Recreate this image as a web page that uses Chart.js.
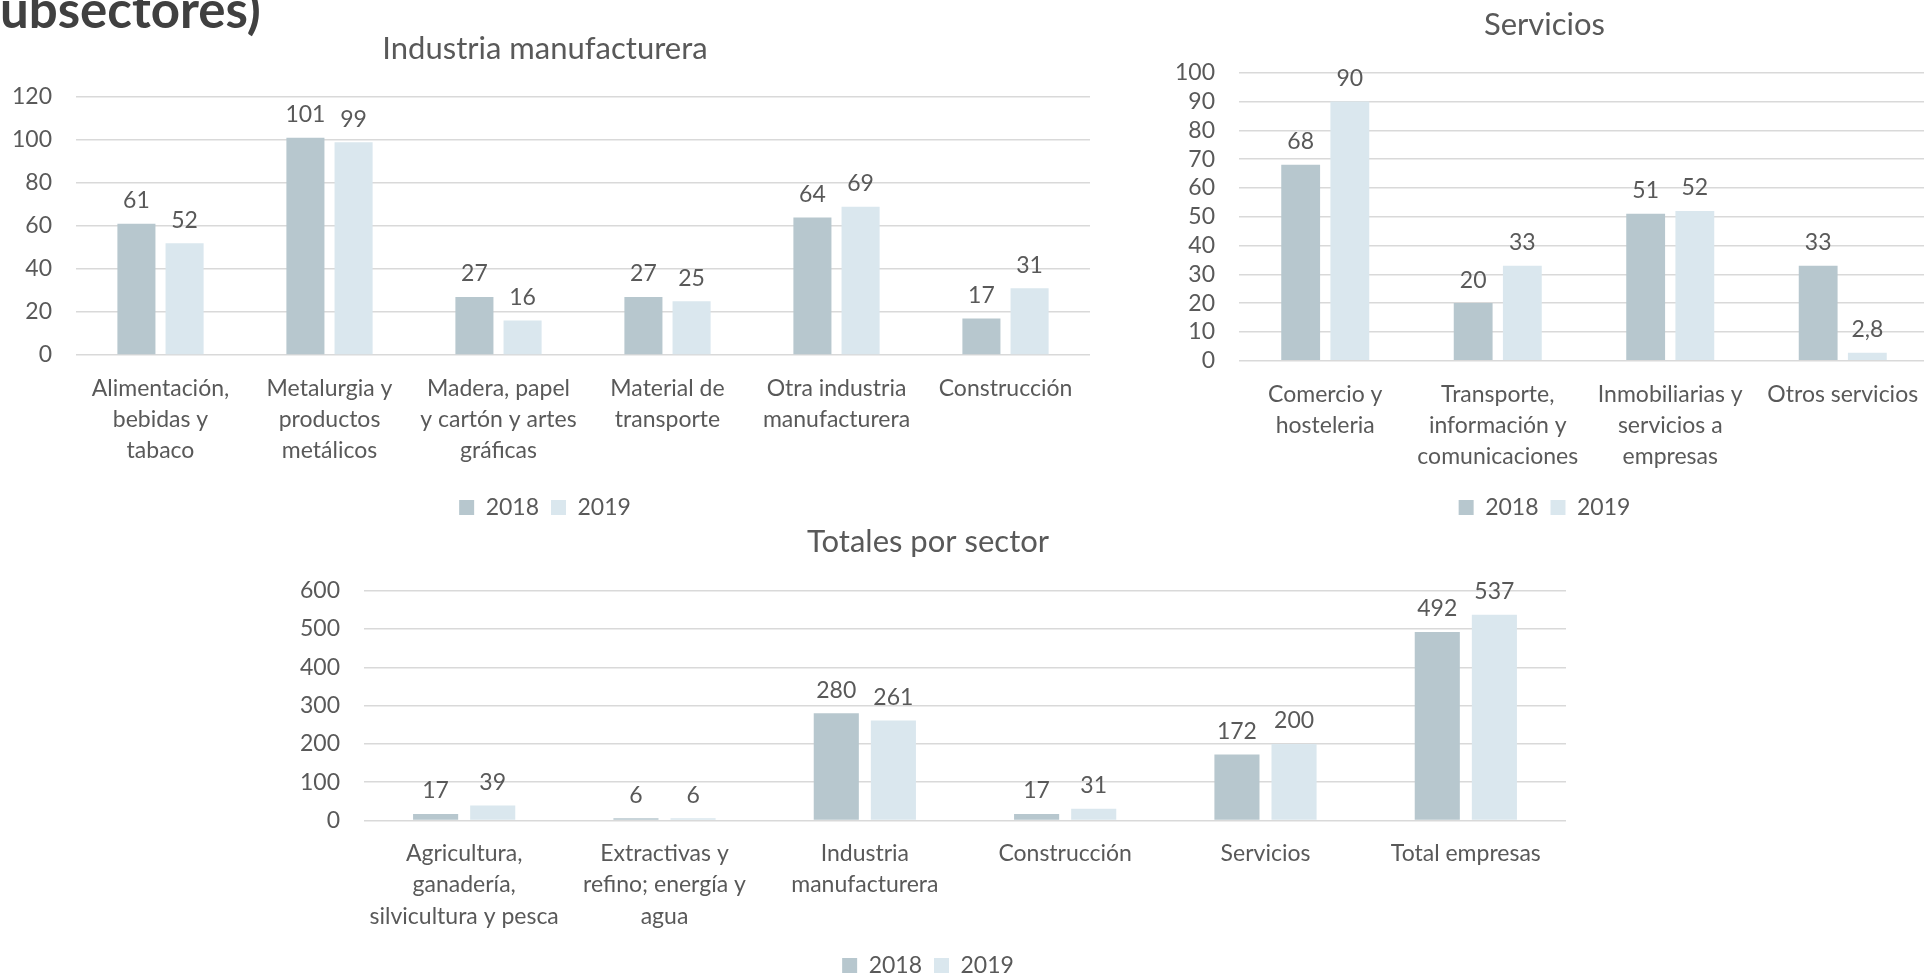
<!DOCTYPE html>
<html>
<head>
<meta charset="utf-8">
<script src="https://cdn.jsdelivr.net/npm/chart.js@4.4.1/dist/chart.umd.min.js"></script>
<style>
  html, body { margin: 0; padding: 0; background: #fff; overflow: hidden; }
  body { width: 1924px; height: 975px; position: relative; }
  canvas { position: absolute; }
  #heading { position: absolute; left: 0; top: -17px; font: bold 51px/51px Lato, sans-serif; color: #404040; white-space: nowrap; }
</style>
</head>
<body>
<div id="heading">ubsectores)</div>
<canvas id="industriaChart" width="1102" height="529" style="left:0;top:0"></canvas>
<canvas id="serviciosChart" width="796" height="529" style="left:1160px;top:0"></canvas>
<canvas id="totalesChart" width="1300" height="487" style="left:290px;top:500px"></canvas>
<script>
// Industria manufacturera
const industriaLabels = [
    ['Alimentación,', 'bebidas y', 'tabaco'],
    ['Metalurgia y', 'productos', 'metálicos'],
    ['Madera, papel', 'y cartón y artes', 'gráficas'],
    ['Material de', 'transporte'],
    ['Otra industria', 'manufacturera'],
    ['Construcción']
];
const industria2018 = [61, 101, 27, 27, 64, 17];
const industria2019 = [52, 99, 16, 25, 69, 31];

// Servicios
const serviciosLabels = [
    ['Comercio y', 'hosteleria'],
    ['Transporte,', 'información y', 'comunicaciones'],
    ['Inmobiliarias y', 'servicios a', 'empresas'],
    ['Otros servicios']
];
const servicios2018 = [68, 20, 51, 33];
const servicios2019 = [90, 33, 52, 2.8];

// Totales por sector
const totalesLabels = [
    ['Agricultura,', 'ganadería,', 'silvicultura y pesca'],
    ['Extractivas y', 'refino; energía y', 'agua'],
    ['Industria', 'manufacturera'],
    ['Construcción'],
    ['Servicios'],
    ['Total empresas']
];
const totales2018 = [17, 6, 280, 17, 172, 492];
const totales2019 = [39, 6, 261, 31, 200, 537];

const color2018 = '#b7c7ce';
const color2019 = '#dae7ee';
const textColor = '#595959';

Chart.defaults.font.family = 'Lato, sans-serif';
Chart.defaults.color = textColor;

// draws the value above each bar (Spanish decimal comma)
const valueLabels = {
    id: 'valueLabels',
    afterDatasetsDraw(chart) {
        const ctx = chart.ctx;
        ctx.save();
        ctx.font = '23px Lato, sans-serif';
        ctx.fillStyle = textColor;
        ctx.textAlign = 'center';
        ctx.textBaseline = 'middle';
        chart.data.datasets.forEach((ds, i) => {
            chart.getDatasetMeta(i).data.forEach((bar, j) => {
                ctx.fillText(String(ds.data[j]).replace('.', ','), bar.x, bar.y - 23);
            });
        });
        ctx.restore();
    }
};

function makeChart(id, cfg) {
    const ctx = document.getElementById(id).getContext('2d');
    return new Chart(ctx, {
        type: 'bar',
        data: {
            labels: cfg.labels,
            datasets: [
                { label: '2018', data: cfg.d2018, backgroundColor: color2018 },
                { label: '2019', data: cfg.d2019, backgroundColor: color2019 }
            ]
        },
        options: {
            responsive: false,
            animation: false,
            categoryPercentage: 0.57,
            barPercentage: 0.79,
            layout: { padding: { left: 0, right: cfg.padRight, top: 0, bottom: 0 } },
            scales: {
                x: {
                    grid: { display: false, drawTicks: false },
                    border: { display: false },
                    ticks: {
                        padding: 18,
                        maxRotation: 0,
                        autoSkip: false,
                        color: textColor,
                        font: { size: 23, lineHeight: 1.35 }
                    },
                    afterFit: (scale) => { scale.height = cfg.xHeight; }
                },
                y: {
                    min: 0,
                    max: cfg.yMax,
                    grid: { color: '#d9d9d9', lineWidth: 1.5, drawTicks: false },
                    border: { display: false },
                    ticks: {
                        stepSize: cfg.step,
                        autoSkip: false,
                        padding: 24,
                        color: textColor,
                        font: { size: 23 }
                    },
                    afterFit: (scale) => { scale.width = cfg.yWidth; }
                }
            },
            plugins: {
                title: {
                    display: true,
                    text: cfg.title,
                    color: textColor,
                    font: { size: 31, weight: 'normal', lineHeight: 1.2 },
                    padding: { top: cfg.titleTop, bottom: cfg.titleBottom }
                },
                legend: {
                    display: true,
                    position: 'bottom',
                    labels: {
                        boxWidth: 15,
                        boxHeight: 15,
                        padding: 12,
                        color: textColor,
                        font: { size: 23 }
                    }
                },
                tooltip: { enabled: false }
            }
        },
        plugins: [valueLabels]
    });
}

makeChart('industriaChart', {
    labels: industriaLabels, d2018: industria2018, d2019: industria2019,
    title: 'Industria manufacturera', yMax: 120, step: 20,
    padRight: 12, yWidth: 76, xHeight: 129, titleTop: 30.4, titleBottom: 29.4
});

makeChart('serviciosChart', {
    labels: serviciosLabels, d2018: servicios2018, d2019: servicios2019,
    title: 'Servicios', yMax: 100, step: 10,
    padRight: 27, yWidth: 79, xHeight: 123.3, titleTop: 6.4, titleBottom: 29.1
});

makeChart('totalesChart', {
    labels: totalesLabels, d2018: totales2018, d2019: totales2019,
    title: 'Totales por sector', yMax: 600, step: 100,
    padRight: 24, yWidth: 74, xHeight: 121.5, titleTop: 23.4, titleBottom: 30.1
});
</script>
</body>
</html>
